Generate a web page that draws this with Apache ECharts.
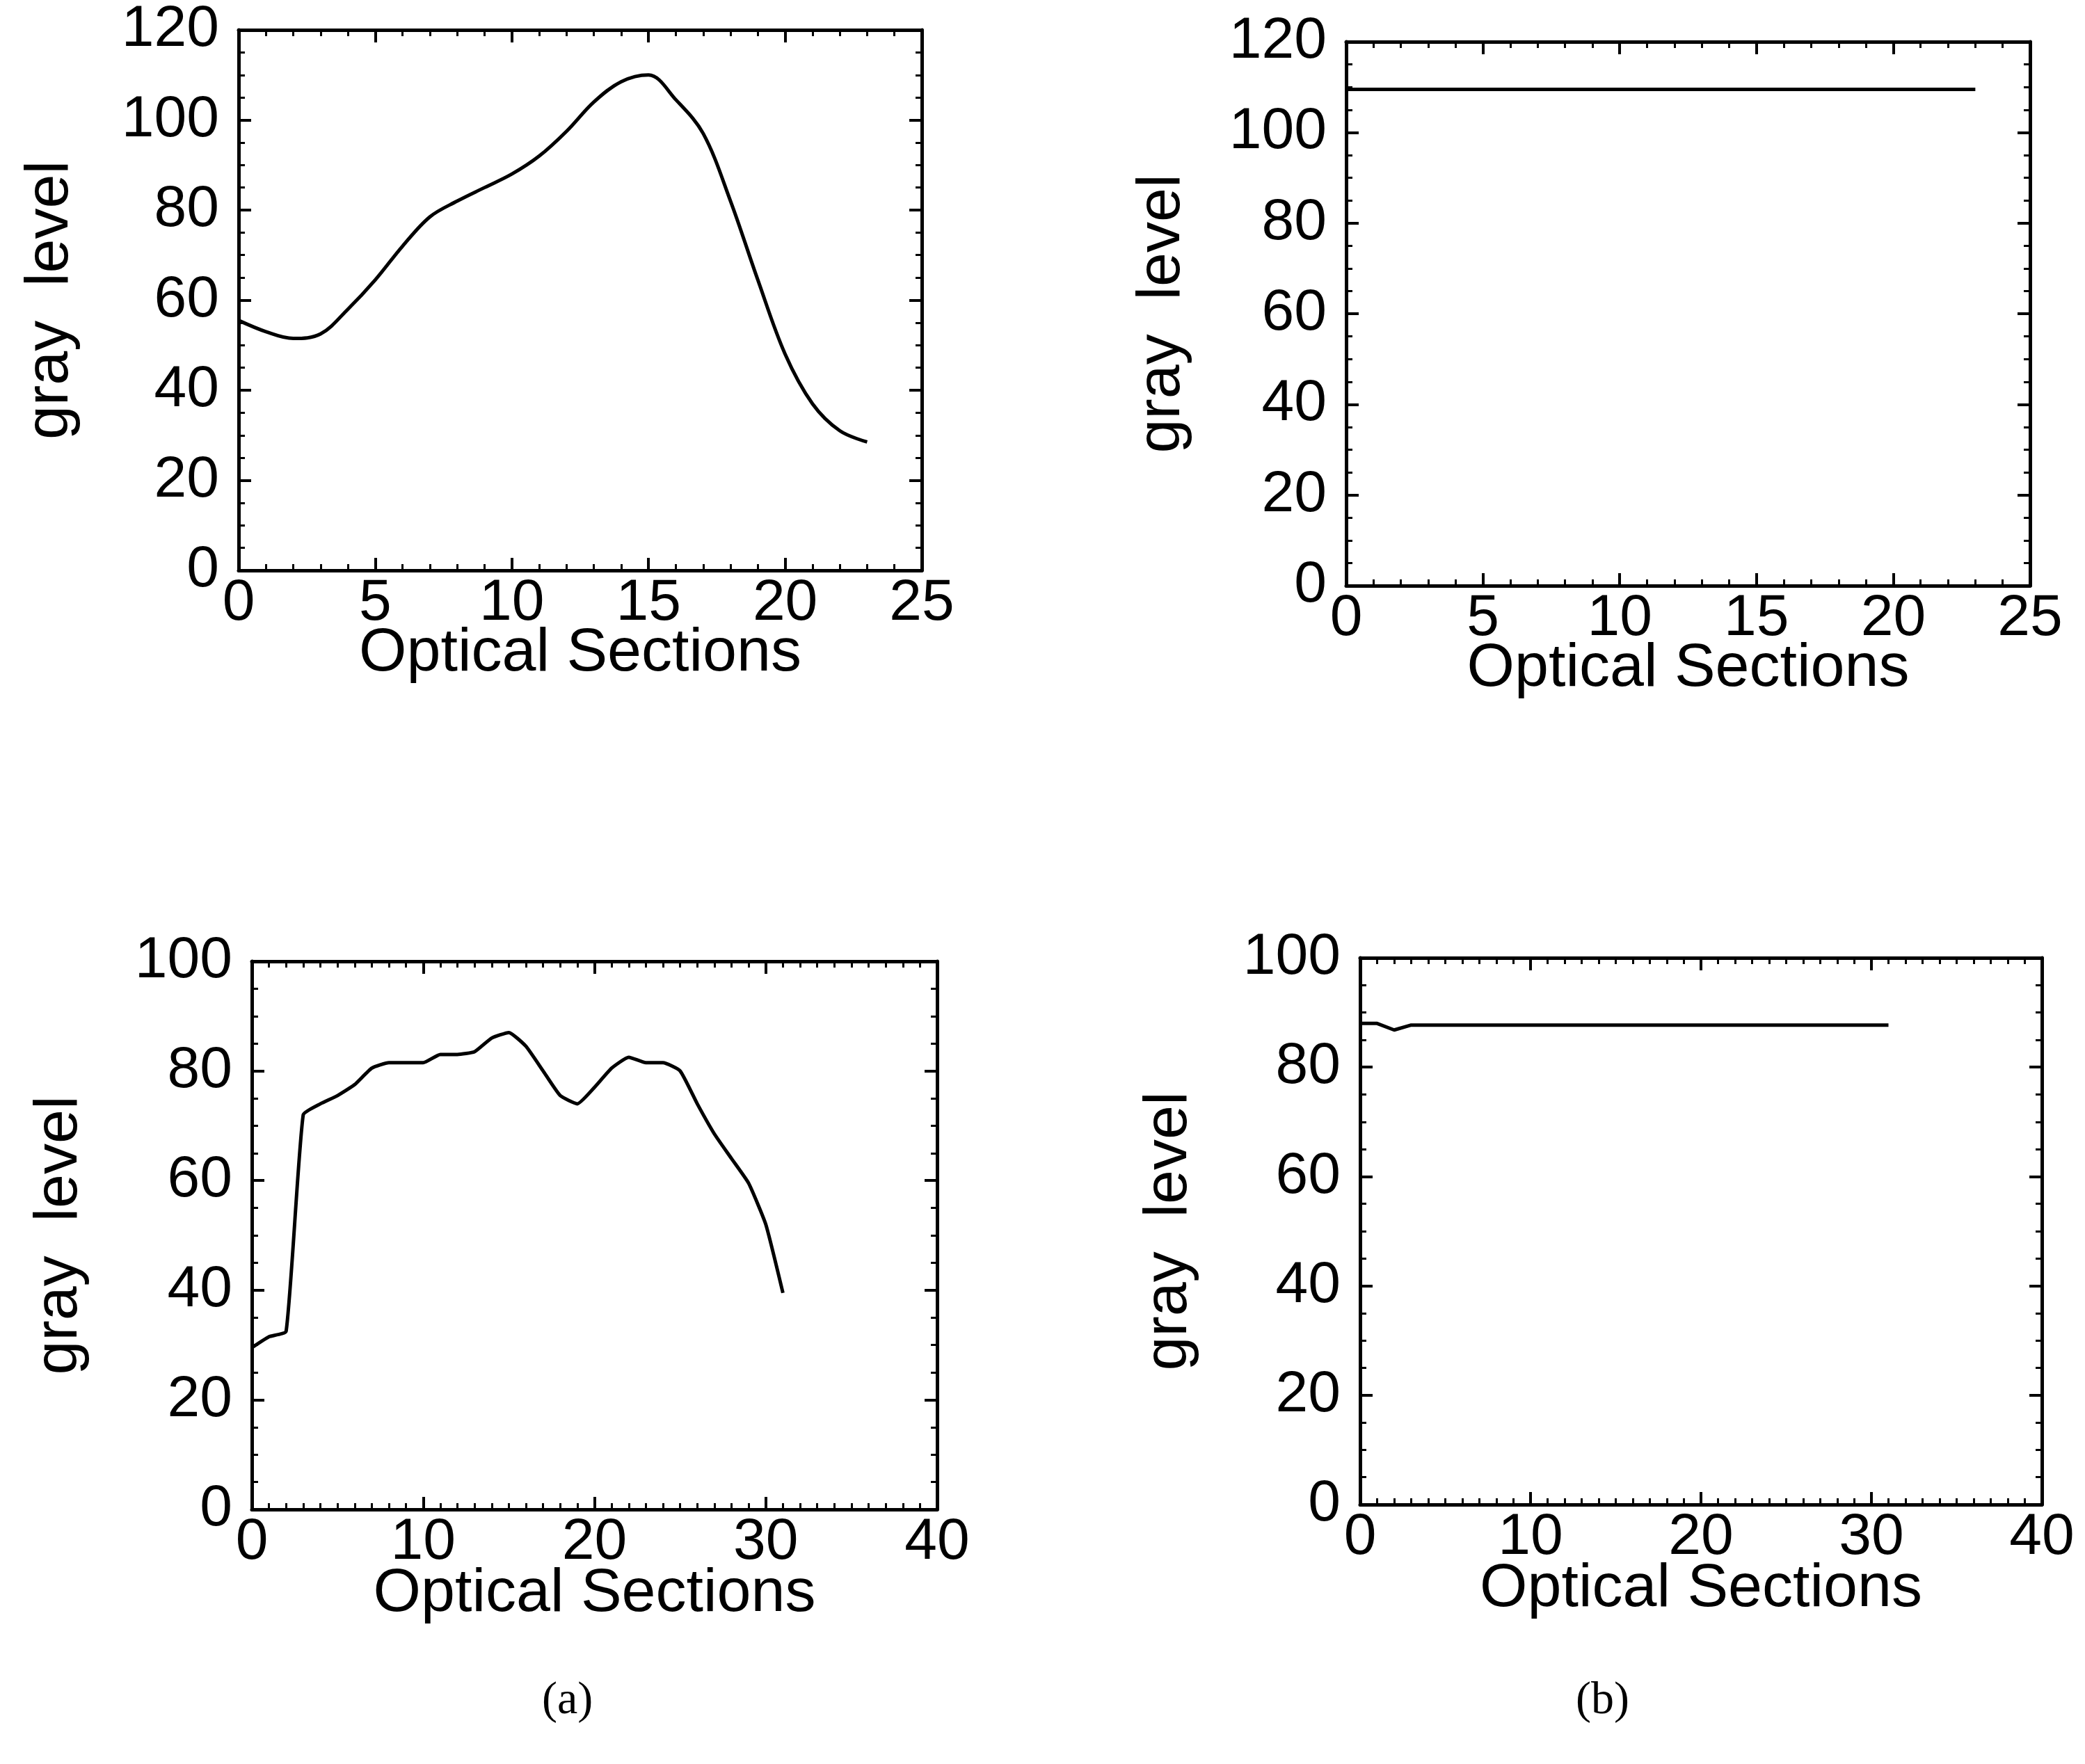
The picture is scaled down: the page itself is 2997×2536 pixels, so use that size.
<!DOCTYPE html>
<html>
<head>
<meta charset="utf-8">
<script src="https://cdn.jsdelivr.net/npm/echarts@6/dist/echarts.min.js"></script>
<style>
  html, body { margin: 0; padding: 0; background: #fff; }
  #main-chart { width: 2997px; height: 2536px; }
</style>
</head>
<body>
<div id="main-chart"></div>
<script>
// Gray level profiles along the optical sections, before (a) and after (b) correction

// top row: 24 optical sections
var sectionsTop = [0, 1, 2, 3, 4, 5, 6, 7, 8, 9, 10, 11, 12, 13, 14, 15, 16, 17, 18, 19, 20, 21, 22, 23];
var grayTopA = [55.5, 53, 51.5, 52.5, 58, 64.5, 72, 78.5, 82, 85, 88, 92, 97.5, 104, 108.5, 110, 104.5, 97, 82, 64.5, 48, 37, 31, 28.5];
var grayTopB = [109.5, 109.5, 109.5, 109.5, 109.5, 109.5, 109.5, 109.5, 109.5, 109.5, 109.5, 109.5,
                109.5, 109.5, 109.5, 109.5, 109.5, 109.5, 109.5, 109.5, 109.5, 109.5, 109.5, 109.5];

// bottom row: 32 optical sections
var sectionsBottom = [0, 1, 2, 3, 4, 5, 6, 7, 8, 9, 10, 11, 12, 13, 14, 15, 16, 17, 18, 19, 20, 21, 22, 23, 24, 25, 26, 27, 28, 29, 30, 31];
var grayBottomA = [29.5, 31.5, 32.5, 72, 74, 75.5, 77.5, 80.5, 81.5, 81.5, 81.5, 83, 83, 83.5, 86, 87,
                   84.5, 80, 75.5, 74, 77, 80.5, 82.5, 81.5, 81.5, 80, 74, 68.5, 64, 59.5, 52, 39.5];
var grayBottomB = [88, 88, 86.8, 87.7, 87.7, 87.7, 87.7, 87.7, 87.7, 87.7, 87.7, 87.7, 87.7, 87.7, 87.7, 87.7,
                   87.7, 87.7, 87.7, 87.7, 87.7, 87.7, 87.7, 87.7, 87.7, 87.7, 87.7, 87.7, 87.7, 87.7, 87.7, 87.7];

// tick labels
var xTicksTop = { min: 0, max: 25, interval: 5 };
var xTicksBottom = { min: 0, max: 40, interval: 10 };
var yTicksTop = { min: 0, max: 120, interval: 20 };
var yTicksBottom = { min: 0, max: 100, interval: 20 };

var FONT = 'Liberation Sans';
var INK = '#000';

function pairs(xs, ys) {
    return xs.map(function (x, i) { return [x, ys[i]]; });
}

// plot boxes in pixels
var panels = [
    { left: 343, top: 43, width: 982, height: 777, x: xTicksTop, y: yTicksTop, xMinor: 5, xGap: 76, yGap: 226, data: pairs(sectionsTop, grayTopA), smooth: 0.35 },
    { left: 1935, top: 60, width: 983, height: 782, x: xTicksTop, y: yTicksTop, xMinor: 5, xGap: 76, yGap: 220, data: pairs(sectionsTop, grayTopB), smooth: false },
    { left: 362, top: 1382, width: 985, height: 788, x: xTicksBottom, y: yTicksBottom, xMinor: 10, xGap: 78, yGap: 232, data: pairs(sectionsBottom, grayBottomA), smooth: 0.15 },
    { left: 1955, top: 1377, width: 980, height: 786, x: xTicksBottom, y: yTicksBottom, xMinor: 10, xGap: 78, yGap: 230, data: pairs(sectionsBottom, grayBottomB), smooth: false }
];

var grid = [], xAxis = [], yAxis = [], series = [];

panels.forEach(function (p, i) {
    grid.push({ left: p.left, top: p.top, width: p.width, height: p.height, outerBoundsMode: 'none' });

    var axisLine = { show: true, onZero: false, lineStyle: { color: INK, width: 5 } };
    var tick = { show: true, inside: true, length: 18, lineStyle: { color: INK, width: 4 } };
    var minor = { show: true, length: 9, lineStyle: { color: INK, width: 3 } };

    // bottom x axis with labels and title
    xAxis.push({
        type: 'value', gridIndex: i, position: 'bottom',
        min: p.x.min, max: p.x.max, interval: p.x.interval,
        axisLine: axisLine, axisTick: tick,
        minorTick: Object.assign({ splitNumber: p.xMinor }, minor),
        splitLine: { show: false },
        axisLabel: { color: INK, fontFamily: FONT, fontSize: 84, margin: 6 },
        name: 'Optical Sections', nameLocation: 'middle', nameGap: p.xGap, nameMoveOverlap: false,
        nameTextStyle: { color: INK, fontFamily: FONT, fontSize: 88 }
    });
    // mirrored top x axis (ticks only)
    xAxis.push({
        type: 'value', gridIndex: i, position: 'top',
        min: p.x.min, max: p.x.max, interval: p.x.interval,
        axisLine: axisLine, axisTick: tick,
        minorTick: Object.assign({ splitNumber: p.xMinor }, minor),
        splitLine: { show: false }, axisLabel: { show: false }
    });
    // left y axis with labels and title
    yAxis.push({
        type: 'value', gridIndex: i, position: 'left',
        min: p.y.min, max: p.y.max, interval: p.y.interval,
        axisLine: axisLine, axisTick: tick,
        minorTick: Object.assign({ splitNumber: 4 }, minor),
        splitLine: { show: false },
        axisLabel: { color: INK, fontFamily: FONT, fontSize: 84, margin: 28 },
        name: 'gray  level', nameLocation: 'middle', nameGap: p.yGap, nameRotate: 90, nameMoveOverlap: false,
        nameTextStyle: { color: INK, fontFamily: FONT, fontSize: 88 }
    });
    // mirrored right y axis (ticks only)
    yAxis.push({
        type: 'value', gridIndex: i, position: 'right',
        min: p.y.min, max: p.y.max, interval: p.y.interval,
        axisLine: axisLine, axisTick: tick,
        minorTick: Object.assign({ splitNumber: 4 }, minor),
        splitLine: { show: false }, axisLabel: { show: false }
    });

    series.push({
        type: 'line', xAxisIndex: i * 2, yAxisIndex: i * 2,
        data: p.data, smooth: p.smooth, showSymbol: false,
        lineStyle: { color: INK, width: 5 }
    });
});

var myChart = echarts.init(document.getElementById('main-chart'));
myChart.setOption({
    backgroundColor: '#fff',
    animation: false,
    title: [
        { text: '(a)', left: 774, top: 2408, textStyle: { fontFamily: 'Liberation Serif', fontSize: 66, fontWeight: 'normal', color: INK } },
        { text: '(b)', left: 2260, top: 2408, textStyle: { fontFamily: 'Liberation Serif', fontSize: 66, fontWeight: 'normal', color: INK } }
    ],
    grid: grid,
    xAxis: xAxis,
    yAxis: yAxis,
    series: series
});
</script>
</body>
</html>
